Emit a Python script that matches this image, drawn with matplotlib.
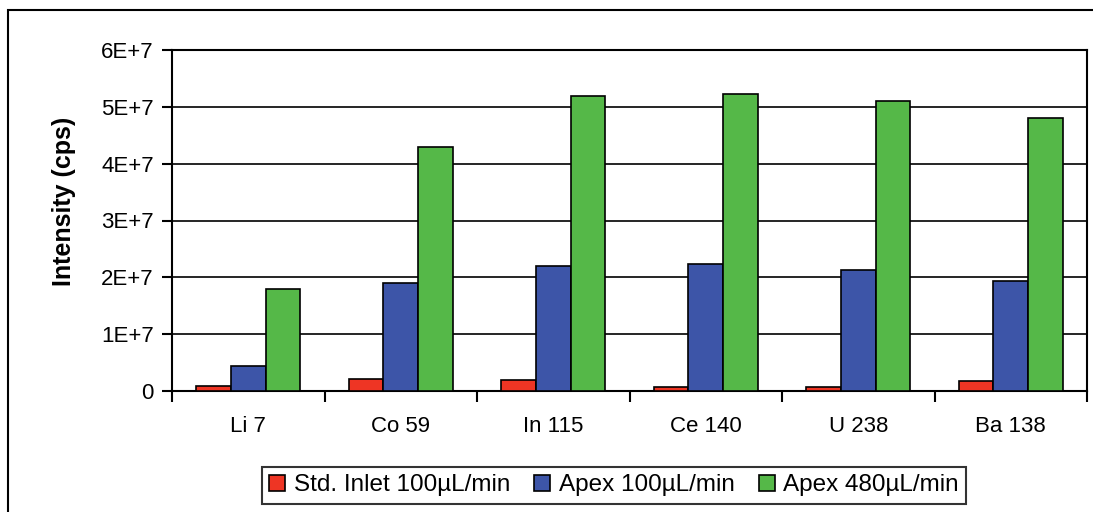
import matplotlib
matplotlib.use("Agg")
import matplotlib.pyplot as plt
import numpy as np
from matplotlib.patches import Rectangle

categories = ["Li 7", "Co 59", "In 115", "Ce 140", "U 238", "Ba 138"]
series_names = ["Std. Inlet 100µL/min", "Apex 100µL/min", "Apex 480µL/min"]
std_inlet_100 = [0.9e6, 2.1e6, 2.0e6, 0.7e6, 0.7e6, 1.8e6]
apex_100 = [4.4e6, 1.9e7, 2.2e7, 2.24e7, 2.13e7, 1.94e7]
apex_480 = [1.8e7, 4.3e7, 5.19e7, 5.23e7, 5.1e7, 4.8e7]
ytick_values = [0, 1e7, 2e7, 3e7, 4e7, 5e7, 6e7]
ytick_labels = ["0", "1E+7", "2E+7", "3E+7", "4E+7", "5E+7", "6E+7"]
colors = ["#EE3524", "#3D55A8", "#55B848"]

plt.rcParams['font.family'] = ['Liberation Sans', 'DejaVu Sans']

fig = plt.figure(figsize=(10.93, 5.12), dpi=100)
fig.patch.set_facecolor("white")
ax = fig.add_axes([172/1093, 1-391/512, (1087-172)/1093, (391-50)/512])

x = np.arange(len(categories))
w = 0.228
handles = []
for i, (vals, c, name) in enumerate(zip([std_inlet_100, apex_100, apex_480], colors, series_names)):
    b = ax.bar(x + (i-1)*w, vals, width=w, color=c, edgecolor="black", linewidth=1.2, label=name, zorder=3)
    handles.append(b)

ax.set_xlim(-0.5, len(categories)-0.5)
ax.set_ylim(0, 6e7)
ax.set_yticks(ytick_values)
ax.set_yticklabels(ytick_labels, fontsize=16)
ax.yaxis.grid(True, color="black", linewidth=1.2, zorder=0)
ax.set_axisbelow(True)

ax.set_xticks(np.arange(len(categories)+1) - 0.5)
ax.set_xticklabels([])
ax.set_xticks(x, minor=True)
ax.set_xticklabels(categories, minor=True, fontsize=16)
ax.tick_params(axis='x', which='major', length=8, width=1.5, direction='out')
ax.tick_params(axis='x', which='minor', length=0, pad=18)
ax.tick_params(axis='y', length=7, width=1.5, direction='out', pad=6)

for s in ax.spines.values():
    s.set_linewidth(1.5)
    s.set_color("black")

ax.set_ylabel("Intensity (cps)", fontsize=18, fontweight="bold")
ax.yaxis.set_label_coords(-0.105, 0.555)

leg = fig.legend(handles=handles, labels=series_names, loc="center",
                 bbox_to_anchor=(614/1093, 1-485.5/512), ncol=3, fontsize=17.5,
                 frameon=True, fancybox=False, edgecolor="black",
                 handlelength=0.65, handleheight=0.65, handletextpad=0.35,
                 columnspacing=1.0, borderpad=0.3)
leg.get_frame().set_linewidth(1.5)

fig.patches.append(Rectangle((8/1093, -0.1), 1.2, 1-10/512+0.1, transform=fig.transFigure,
                             fill=False, edgecolor="black", linewidth=1.5, zorder=-1))

fig.savefig("out.png", dpi=100)
